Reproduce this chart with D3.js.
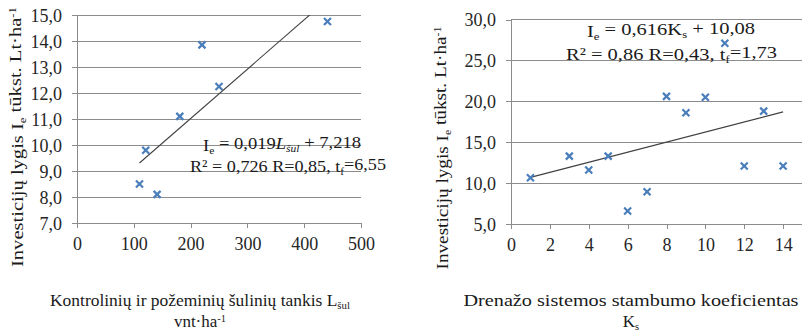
<!DOCTYPE html>
<html>
<head>
<meta charset="utf-8">
<script src="https://cdn.jsdelivr.net/npm/d3@7"></script>
<style>
  body { margin: 0; background: #fff; }
  svg { display: block; font-family: "Liberation Serif", "Times New Roman", serif; }
  .grid line { stroke: #8c8c8c; stroke-width: 1; shape-rendering: crispEdges; }
  .axis path, .axis line { stroke: #8c8c8c; shape-rendering: crispEdges; }
  .axis text { fill: #262626; font-size: 18px; font-family: "Liberation Serif", "Times New Roman", serif; }
  .trend { stroke: #404040; stroke-width: 1.1; fill: none; }
  .mark { stroke: #4a7ebb; stroke-width: 2.2; }
  .lbl { fill: #1a1a1a; font-size: 17px; }
</style>
</head>
<body>
<div id="chart"></div>
<script>
// left chart: well density vs investment level
var wellDensity = [110, 121, 141, 181, 220, 250, 441];
var investA = [8.5, 9.8, 8.1, 11.1, 13.85, 12.25, 14.75];
var trendA = {slope: 0.019, intercept: 7.218};
var xTicksA = [0, 100, 200, 300, 400, 500];
var yTicksA = [7, 8, 9, 10, 11, 12, 13, 14, 15];

// right chart: drainage system size coefficient vs investment level
var sizeCoef = [1, 3, 4, 5, 6, 7, 8, 9, 10, 11, 12, 13, 14];
var investB = [10.65, 13.3, 11.6, 13.3, 6.6, 8.95, 20.6, 18.6, 20.5, 27.1, 12.1, 18.8, 12.1];
var trendB = {slope: 0.616, intercept: 10.08};
var xTicksB = [0, 2, 4, 6, 8, 10, 12, 14];
var yTicksB = [5, 10, 15, 20, 25, 30];

var W = 802, H = 331;
var fmt = function(d) { return d3.format(".1f")(d).replace(".", ","); };

var svg = d3.select("#chart").append("svg")
    .attr("width", W)
    .attr("height", H);

function drawChart(cfg, id) {
  var x = d3.scaleLinear().domain(cfg.xDomain).range(cfg.xRange);
  var y = d3.scaleLinear().domain(cfg.yDomain).range(cfg.yRange);
  var g = svg.append("g");

  g.append("clipPath").attr("id", "clip" + id)
    .append("rect")
      .attr("x", cfg.xRange[0]).attr("y", cfg.yRange[1])
      .attr("width", cfg.xRange[1] - cfg.xRange[0])
      .attr("height", cfg.yRange[0] - cfg.yRange[1]);

  // horizontal grid
  g.append("g").attr("class", "grid")
    .selectAll("line").data(cfg.yTicks.slice(1)).enter().append("line")
      .attr("x1", cfg.xRange[0]).attr("x2", cfg.xRange[1])
      .attr("y1", function(d) { return y(d); })
      .attr("y2", function(d) { return y(d); });

  g.append("g").attr("class", "axis")
    .attr("transform", "translate(0," + cfg.yRange[0] + ")")
    .call(d3.axisBottom(x).tickValues(cfg.xTicks).tickSize(5).tickPadding(9).tickSizeOuter(0))
    .attr("font-family", null).attr("font-size", null);

  g.append("g").attr("class", "axis")
    .attr("transform", "translate(" + cfg.xRange[0] + ",0)")
    .call(d3.axisLeft(y).tickValues(cfg.yTicks).tickSize(5).tickPadding(10).tickFormat(fmt).tickSizeOuter(0))
    .attr("font-family", null).attr("font-size", null)
    .call(function(a) { a.selectAll("text").attr("dy", "0.36em"); });

  // trend line
  var tx = d3.extent(cfg.xs);
  g.append("line").attr("class", "trend")
    .attr("clip-path", "url(#clip" + id + ")")
    .attr("x1", x(tx[0])).attr("y1", y(cfg.trend.slope * tx[0] + cfg.trend.intercept))
    .attr("x2", x(tx[1])).attr("y2", y(cfg.trend.slope * tx[1] + cfg.trend.intercept));

  // x markers
  var s = 3.5;
  var pts = g.selectAll(".pt").data(cfg.xs.map(function(v, i) { return [v, cfg.ys[i]]; }))
    .enter().append("g").attr("class", "pt")
      .attr("transform", function(d) { return "translate(" + x(d[0]) + "," + y(d[1]) + ")"; });
  pts.append("line").attr("class", "mark").attr("x1", -s).attr("y1", -s).attr("x2", s).attr("y2", s);
  pts.append("line").attr("class", "mark").attr("x1", -s).attr("y1", s).attr("x2", s).attr("y2", -s);

  return g;
}

function sub(t, str, opts) {
  t.append("tspan").attr("font-size", "0.62em").attr("dy", "0.25em").text(str)
    .attr("font-style", opts && opts.italic ? "italic" : null);
  return t.append("tspan").attr("dy", "-0.25em");
}

var gA = drawChart({xDomain: [0, 500], xRange: [77, 361], yDomain: [7, 15], yRange: [223, 15],
  xs: wellDensity, ys: investA, trend: trendA, xTicks: xTicksA, yTicks: yTicksA}, "A");

var gB = drawChart({xDomain: [0, 16], xRange: [511, 822], yDomain: [5, 30], yRange: [224, 19.5],
  xs: sizeCoef, ys: investB, trend: trendB, xTicks: xTicksB, yTicks: yTicksB}, "B");

// equations
function equation(g, xPos, yPos, width, parts) {
  var t = g.append("text").attr("class", "lbl").attr("x", xPos).attr("y", yPos)
    .attr("textLength", width).attr("lengthAdjust", "spacingAndGlyphs");
  parts(t);
}

equation(gA, 203, 151, 158, function(t) {
  t.append("tspan").text("I");
  sub(t, "e").text(" = 0,019");
  t.append("tspan").attr("font-style", "italic").text("L");
  sub(t, "šul", {italic: true}).text(" + 7,218");
});
equation(gA, 190, 172, 196, function(t) {
  t.append("tspan").text("R² = 0,726 R=0,85, t");
  sub(t, "f").text("=6,55");
});
equation(gB, 587, 37, 168, function(t) {
  t.append("tspan").text("I");
  sub(t, "e").text(" = 0,616K");
  sub(t, "s").text(" + 10,08");
});
equation(gB, 566, 60, 211, function(t) {
  t.append("tspan").text("R² = 0,86 R=0,43, t");
  sub(t, "f").text("=1,73");
});

// axis titles
function yTitle(cx, cy, len) {
  var t = svg.append("text").attr("class", "lbl")
    .attr("transform", "translate(" + cx + "," + cy + ") rotate(-90)")
    .attr("text-anchor", "middle")
    .attr("textLength", len).attr("lengthAdjust", "spacingAndGlyphs");
  t.append("tspan").text("Investicijų lygis I");
  sub(t, "e").text(" tūkst. Lt·ha");
  t.append("tspan").attr("font-size", "0.62em").attr("dy", "-0.5em").text("-1");
}
yTitle(23, 137, 260);
yTitle(448, 148, 243);

function xTitle(cx, lines, len) {
  var t1 = svg.append("text").attr("class", "lbl").attr("x", cx).attr("y", 306)
    .attr("text-anchor", "middle").attr("textLength", len).attr("lengthAdjust", "spacingAndGlyphs");
  lines[0](t1);
  var t2 = svg.append("text").attr("class", "lbl").attr("x", cx).attr("y", 327)
    .attr("text-anchor", "middle");
  lines[1](t2);
}
xTitle(200, [
  function(t) { t.append("tspan").text("Kontrolinių ir požeminių šulinių tankis L"); sub(t, "šul"); },
  function(t) { t.append("tspan").text("vnt·ha"); t.append("tspan").attr("font-size", "0.62em").attr("dy", "-0.5em").text("-1"); }
], 300);
xTitle(631, [
  function(t) { t.append("tspan").text("Drenažo sistemos stambumo koeficientas"); },
  function(t) { t.append("tspan").text("K"); sub(t, "s"); }
], 335);
</script>
</body>
</html>
